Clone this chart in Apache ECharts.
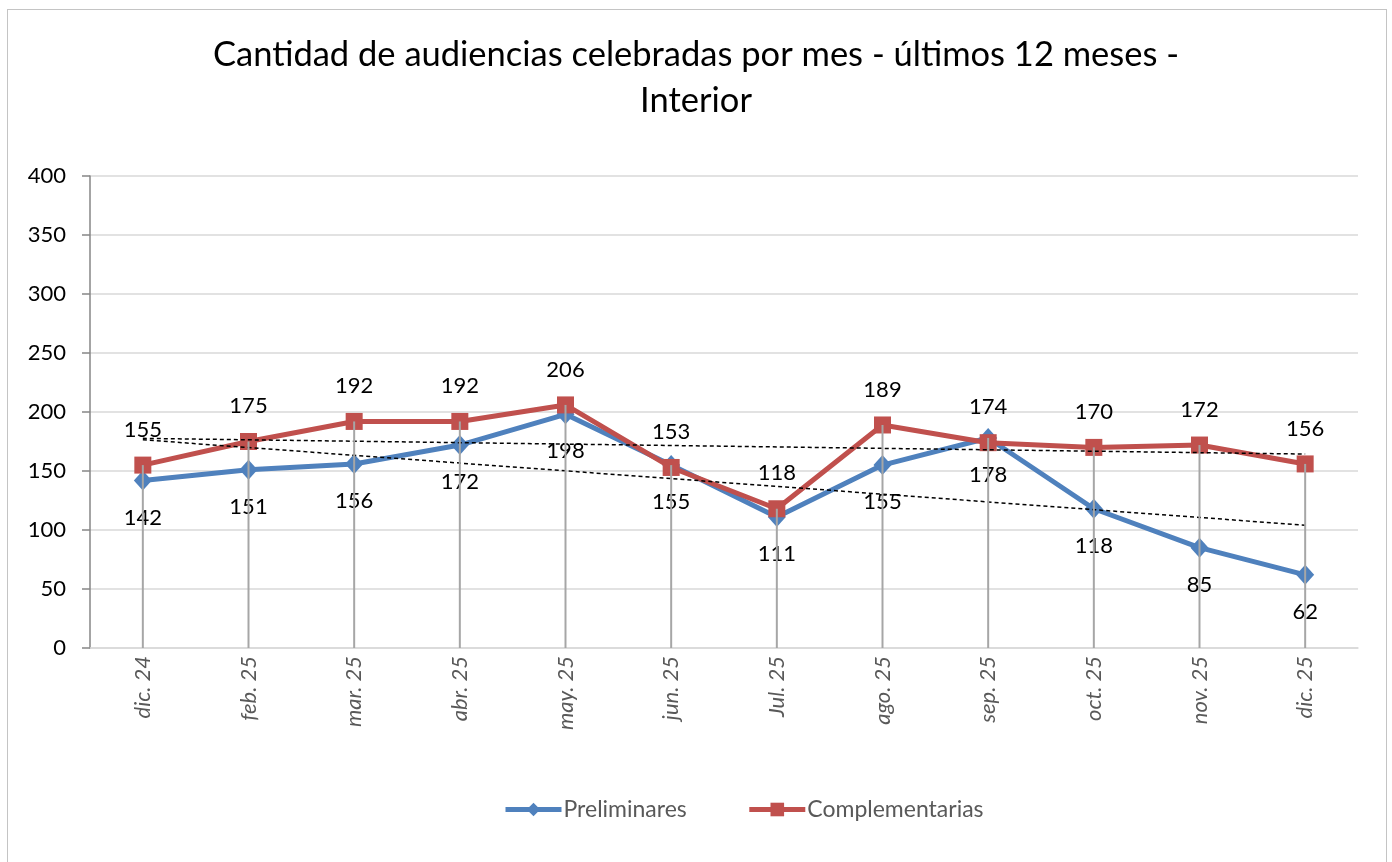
<!DOCTYPE html>
<html>
<head>
<meta charset="utf-8">
<script src="https://cdn.jsdelivr.net/npm/echarts@6/dist/echarts.min.js"></script>
<style>
  html, body { margin: 0; padding: 0; background: #fff; }
  #chart { width: 1392px; height: 862px; }
  .frame {
    position: absolute; left: 7px; top: 9px; width: 1378px; height: 900px;
    border: 1px solid #c4c4c4; pointer-events: none;
  }
</style>
</head>
<body>
<div id="chart"></div>
<div class="frame"></div>
<script>
// datos
const meses = ["dic. 24", "feb. 25", "mar. 25", "abr. 25", "may. 25", "jun. 25",
  "Jul. 25", "ago. 25", "sep. 25", "oct. 25", "nov. 25", "dic. 25"];
const preliminares = [142, 151, 156, 172, 198, 155, 111, 155, 178, 118, 85, 62];
const complementarias = [155, 175, 192, 192, 206, 153, 118, 189, 174, 170, 172, 156];
const yTicks = { min: 0, max: 400, interval: 50 };

// línea de tendencia lineal (mínimos cuadrados), como la de Excel
const tendencia = (vals) => {
  const n = vals.length;
  const mx = (n - 1) / 2;
  const my = vals.reduce((a, b) => a + b, 0) / n;
  let sxy = 0, sxx = 0;
  vals.forEach((v, i) => { sxy += (i - mx) * (v - my); sxx += (i - mx) * (i - mx); });
  const m = sxy / sxx;
  return vals.map((_, i) => +(my + m * (i - mx)).toFixed(2));
};

// líneas de caída: desde el punto más alto hasta el eje
const caidas = preliminares.map((v, i) => Math.max(v, complementarias[i]));

const FONT = "Lato, 'Open Sans', sans-serif";
const AZUL = "#4F81BD";
const ROJO = "#C0504D";

const chart = echarts.init(document.getElementById("chart"));

chart.setOption({
  animation: false,
  textStyle: { fontFamily: FONT },
  title: {
    text: "Cantidad de audiencias celebradas por mes - últimos 12 meses -\nInterior",
    left: "center",
    top: 27,
    textStyle: { fontFamily: FONT, fontSize: 34.5, fontWeight: "normal", color: "#000", lineHeight: 46 },
  },
  legend: {
    data: ["Preliminares", "Complementarias"],
    bottom: 36,
    left: 498,
    itemWidth: 56,
    itemHeight: 17,
    itemGap: 60,
    lineStyle: { width: 5 },
    textStyle: { fontFamily: FONT, fontSize: 23, color: "#595959", padding: [0, 0, 0, -3] },
  },
  grid: { left: 90, right: 34, top: 176, bottom: 214, containLabel: false },
  xAxis: {
    type: "category",
    data: meses,
    boundaryGap: true,
    axisLine: { lineStyle: { color: "#d9d9d9", width: 1.5 } },
    axisTick: { show: false },
    axisLabel: {
      rotate: 90,
      margin: 8,
      fontSize: 22,
      fontStyle: "italic",
      color: "#595959",
      fontFamily: FONT,
    },
  },
  yAxis: {
    type: "value",
    min: yTicks.min,
    max: yTicks.max,
    interval: yTicks.interval,
    axisLine: { show: true, lineStyle: { color: "#868686", width: 1.5 } },
    axisTick: { show: true, length: 8, lineStyle: { color: "#868686", width: 1.5 } },
    axisLabel: { fontSize: 22, color: "#000", margin: 24, fontFamily: FONT },
    splitLine: { lineStyle: { color: "#d9d9d9", width: 1.5 } },
  },
  series: [
    {
      name: "Preliminares",
      type: "line",
      data: preliminares,
      z: 2,
      symbol: "diamond",
      symbolSize: [18, 20],
      lineStyle: { color: AZUL, width: 5 },
      itemStyle: { color: AZUL },
      label: {
        show: true, position: "bottom", distance: 16,
        fontSize: 22, color: "#000", fontFamily: FONT,
      },
    },
    {
      name: "Complementarias",
      type: "line",
      data: complementarias,
      z: 3,
      symbol: "rect",
      symbolSize: 17,
      lineStyle: { color: ROJO, width: 5 },
      itemStyle: { color: ROJO },
      label: {
        show: true, position: "top", distance: 16,
        fontSize: 22, color: "#000", fontFamily: FONT,
      },
    },
    {
      name: "Tendencia Preliminares",
      type: "line",
      data: tendencia(preliminares),
      z: 4,
      symbol: "none",
      silent: true,
      lineStyle: { color: "#000", width: 1.5, type: [4, 3] },
    },
    {
      name: "Tendencia Complementarias",
      type: "line",
      data: tendencia(complementarias),
      z: 4,
      symbol: "none",
      silent: true,
      lineStyle: { color: "#000", width: 1.5, type: [4, 3] },
    },
    {
      name: "Líneas de caída",
      type: "bar",
      data: caidas,
      z: 5,
      barWidth: 2,
      silent: true,
      itemStyle: { color: "#a6a6a6" },
    },
  ],
});
</script>
</body>
</html>
